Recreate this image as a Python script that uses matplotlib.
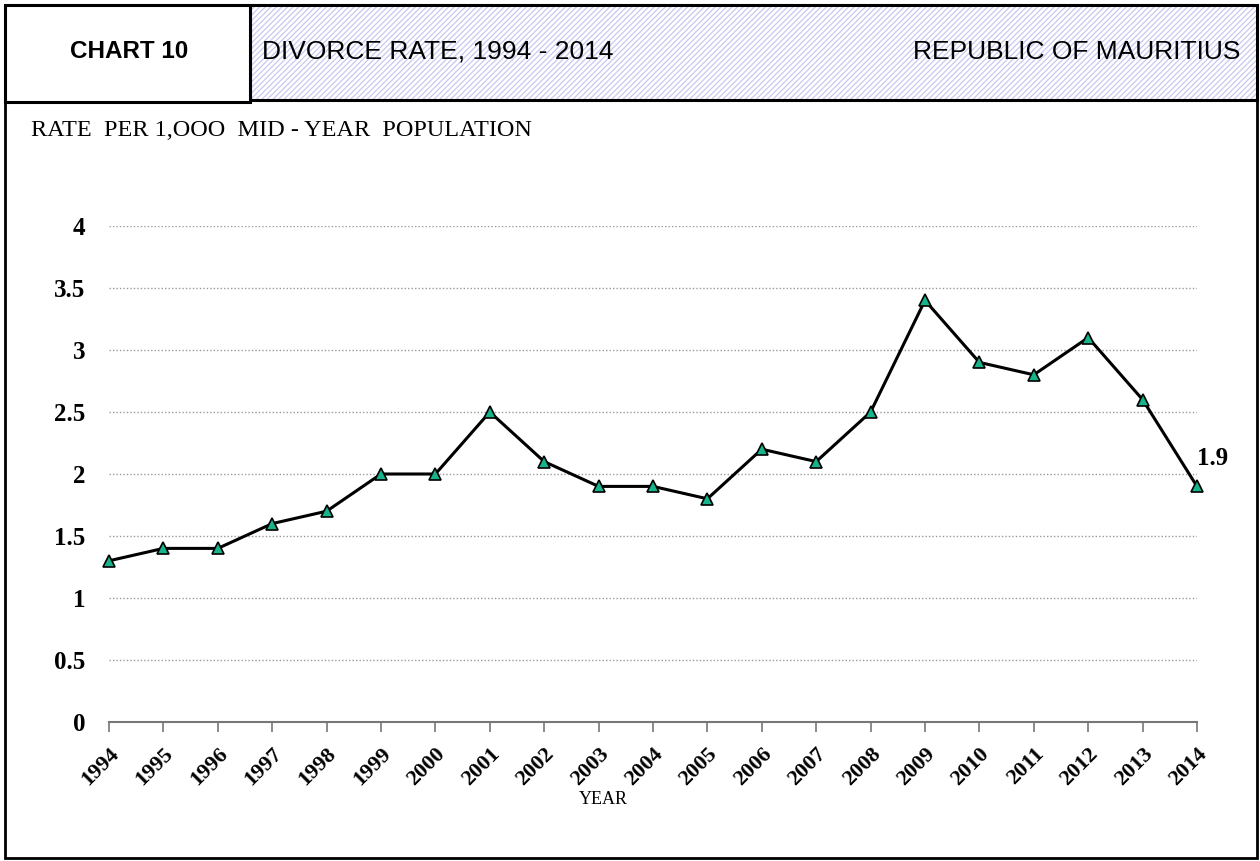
import matplotlib.pyplot as plt
from matplotlib.patches import Rectangle
from matplotlib.transforms import ScaledTranslation

years = [1994, 1995, 1996, 1997, 1998, 1999, 2000, 2001, 2002, 2003, 2004,
         2005, 2006, 2007, 2008, 2009, 2010, 2011, 2012, 2013, 2014]
rate = [1.3, 1.4, 1.4, 1.6, 1.7, 2.0, 2.0, 2.5, 2.1, 1.9, 1.9,
        1.8, 2.2, 2.1, 2.5, 3.4, 2.9, 2.8, 3.1, 2.6, 1.9]
yticks = [0, 0.5, 1, 1.5, 2, 2.5, 3, 3.5, 4]
ytick_labels = ['0', '0.5', '1', '1.5', '2', '2.5', '3', '3.5', '4']

W, H = 1260, 861
fig = plt.figure(figsize=(W / 100, H / 100), dpi=100)

def fx(px):
    return px / W

def fy(py):
    return 1 - py / H

# header: hatched title band
plt.rcParams['hatch.linewidth'] = 0.9
band = Rectangle((fx(250), fy(100)), fx(1257) - fx(250), fy(5) - fy(100),
                 transform=fig.transFigure, facecolor='white',
                 edgecolor='#c8c8f0', hatch='//////', linewidth=0)
fig.patches.append(band)
# header borders
fig.patches.append(Rectangle((fx(250), fy(100)), fx(1257) - fx(250), fy(5) - fy(100),
                             transform=fig.transFigure, fill=False,
                             edgecolor='black', linewidth=2.2))
fig.patches.append(Rectangle((fx(5), fy(102)), fx(250) - fx(5), fy(5) - fy(102),
                             transform=fig.transFigure, facecolor='white',
                             edgecolor='black', linewidth=2.2))
# outer frame
fig.patches.append(Rectangle((fx(5), fy(858)), fx(1257) - fx(5), fy(5) - fy(858),
                             transform=fig.transFigure, fill=False,
                             edgecolor='black', linewidth=2.0))

fig.text(fx(129), fy(52), 'CHART 10', fontfamily='Liberation Sans',
         fontweight='bold', fontsize=17.5, ha='center', va='center')
fig.text(fx(262), fy(52), 'DIVORCE RATE, 1994 - 2014', fontfamily='Liberation Sans',
         fontsize=19, ha='left', va='center')
fig.text(fx(1240), fy(52), 'REPUBLIC OF MAURITIUS', fontfamily='Liberation Sans',
         fontsize=19, ha='right', va='center')

fig.text(fx(31), fy(131), 'RATE  PER 1,OOO  MID - YEAR  POPULATION',
         fontfamily='Liberation Serif', fontsize=17.5, ha='left', va='center')

ax = fig.add_axes([fx(109), fy(722), fx(1197) - fx(109), fy(226) - fy(722)])
ax.set_xlim(1994, 2014)
ax.set_ylim(0, 4)

ax.plot(years, rate, color='black', linewidth=2.2, marker='^', markersize=8.5,
        markerfacecolor='#17b38a', markeredgecolor='black', markeredgewidth=1.2,
        zorder=3, clip_on=False)

ax.set_yticks(yticks)
ax.set_yticklabels(ytick_labels)
ax.set_xticks(years)
ax.set_xticklabels([str(y) for y in years], rotation=45, ha='right',
                   rotation_mode='anchor')
for lbl in ax.get_yticklabels():
    lbl.set_fontfamily('Liberation Serif')
    lbl.set_fontweight('bold')
    lbl.set_fontsize(18)
shift = ScaledTranslation(-6 / 100, 0, fig.dpi_scale_trans)
for lbl in ax.get_xticklabels():
    lbl.set_fontfamily('Liberation Serif')
    lbl.set_fontweight('bold')
    lbl.set_fontsize(16)
    lbl.set_transform(lbl.get_transform() + shift)

ax.grid(axis='y', linestyle=(0, (1, 1.5)), color='#9a9a9a', linewidth=1.0)
ax.tick_params(axis='y', length=0, pad=17)
ax.tick_params(axis='x', length=7, color='#777777', width=1.2, pad=9)
for s in ['left', 'right', 'top']:
    ax.spines[s].set_visible(False)
ax.spines['bottom'].set_color('#777777')
ax.spines['bottom'].set_linewidth(1.5)
ax.spines['bottom'].set_zorder(4)

ax.annotate('1.9', (years[-1], rate[-1]), xytext=(0, 20), textcoords='offset points',
            fontfamily='Liberation Serif', fontweight='bold', fontsize=18,
            ha='left', va='center')

fig.text(fx(603), fy(800), 'YEAR', fontfamily='Liberation Serif', fontsize=13,
         ha='center', va='center')

fig.savefig('out.png', dpi=100)
